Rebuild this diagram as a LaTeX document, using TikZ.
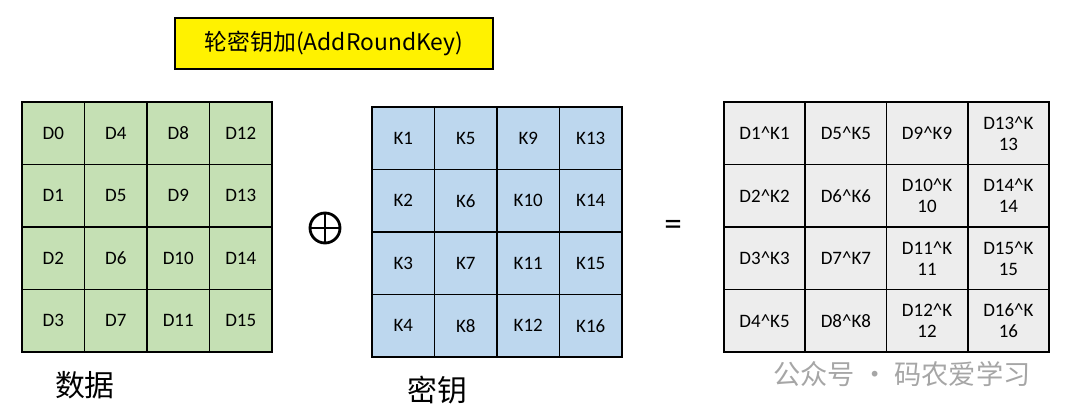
\documentclass[tikz,border=0pt]{standalone}
\usepackage{fontspec}
\setmainfont{Carlito}
\newfontfamily\cjk{Noto Sans CJK SC}
\usetikzlibrary{positioning}
\definecolor{datagreen}{HTML}{C5E0B4}
\definecolor{keyblue}{HTML}{BDD7EE}
\definecolor{resgray}{HTML}{EDEDED}
\begin{document}
\begin{tikzpicture}[x=0.02cm,y=-0.02cm]
 \tikzstyle{cell} = [draw,line width=1.1pt,minimum height=62.5*0.02cm,inner sep=0,align=center,font=\fontsize{10.8}{12}\selectfont]
 \tikzstyle{dcell} = [cell,fill=datagreen,minimum width=62.5*0.02cm]
 \tikzstyle{kcell} = [cell,fill=keyblue,minimum width=62.5*0.02cm]
 \tikzstyle{rcell} = [cell,fill=resgray,minimum width=81.25*0.02cm]
 \useasboundingbox (0,0) rectangle (1069,415);

 % title
 \node[draw,line width=1pt,fill=yellow,minimum width=318*0.02cm,minimum height=51*0.02cm,font=\cjk\fontsize{13}{14}\selectfont] (title) at (334,43.5) {轮密钥加(AddRoundKey)};

 % data and key matrices
 \foreach \c in {0,...,3} {
  \foreach \r in {0,...,3} {
   \pgfmathtruncatemacro{\d}{4*\c+\r}
   \pgfmathtruncatemacro{\k}{4*\c+\r+1}
   \node[dcell] (d\c\r) at (53.25+62.5*\c,133.25+62.5*\r) {D\d};
   \node[kcell] (k\c\r) at (403.25+62.5*\c,138.25+62.5*\r) {K\k};
  }
 }

 % result matrix
 \foreach \r/\a/\b/\e/\f in {0/D1\^{}K1/D5\^{}K5/D9\^{}K9/D13\^{}K\\13,
                           1/D2\^{}K2/D6\^{}K6/D10\^{}K\\10/D14\^{}K\\14,
                           2/D3\^{}K3/D7\^{}K7/D11\^{}K\\11/D15\^{}K\\15,
                           3/D4\^{}K5/D8\^{}K8/D12\^{}K\\12/D16\^{}K\\16} {
  \node[rcell] (r0\r) at (764.6,133.25+62.5*\r) {\a};
  \node[rcell] (r1\r) at (845.9,133.25+62.5*\r) {\b};
  \node[rcell] (r2\r) at (927.1,133.25+62.5*\r) {\e};
  \node[rcell] (r3\r) at (1008.4,133.25+62.5*\r) {\f};
 }

 % xor sign
 \node[circle,draw,line width=1.6pt,minimum size=30*0.02cm,inner sep=0] (xor) at (325,228) {};
 \draw[line width=1.6pt] (xor.north) -- (xor.south) (xor.west) -- (xor.east);
 \node[font=\fontsize{20}{20}\selectfont] (eq) at (673,228) {=};

 \node[font=\cjk\fontsize{17}{17}\selectfont] (dlabel) at (85,385) {数据};
 \node[font=\cjk\fontsize{17}{17}\selectfont] (klabel) at (437,390) {密钥};
 \node[font=\cjk\fontsize{15.5}{16}\selectfont,text=black!35] (mark) at (902,374) {公众号 · 码农爱学习};
\end{tikzpicture}
\end{document}
